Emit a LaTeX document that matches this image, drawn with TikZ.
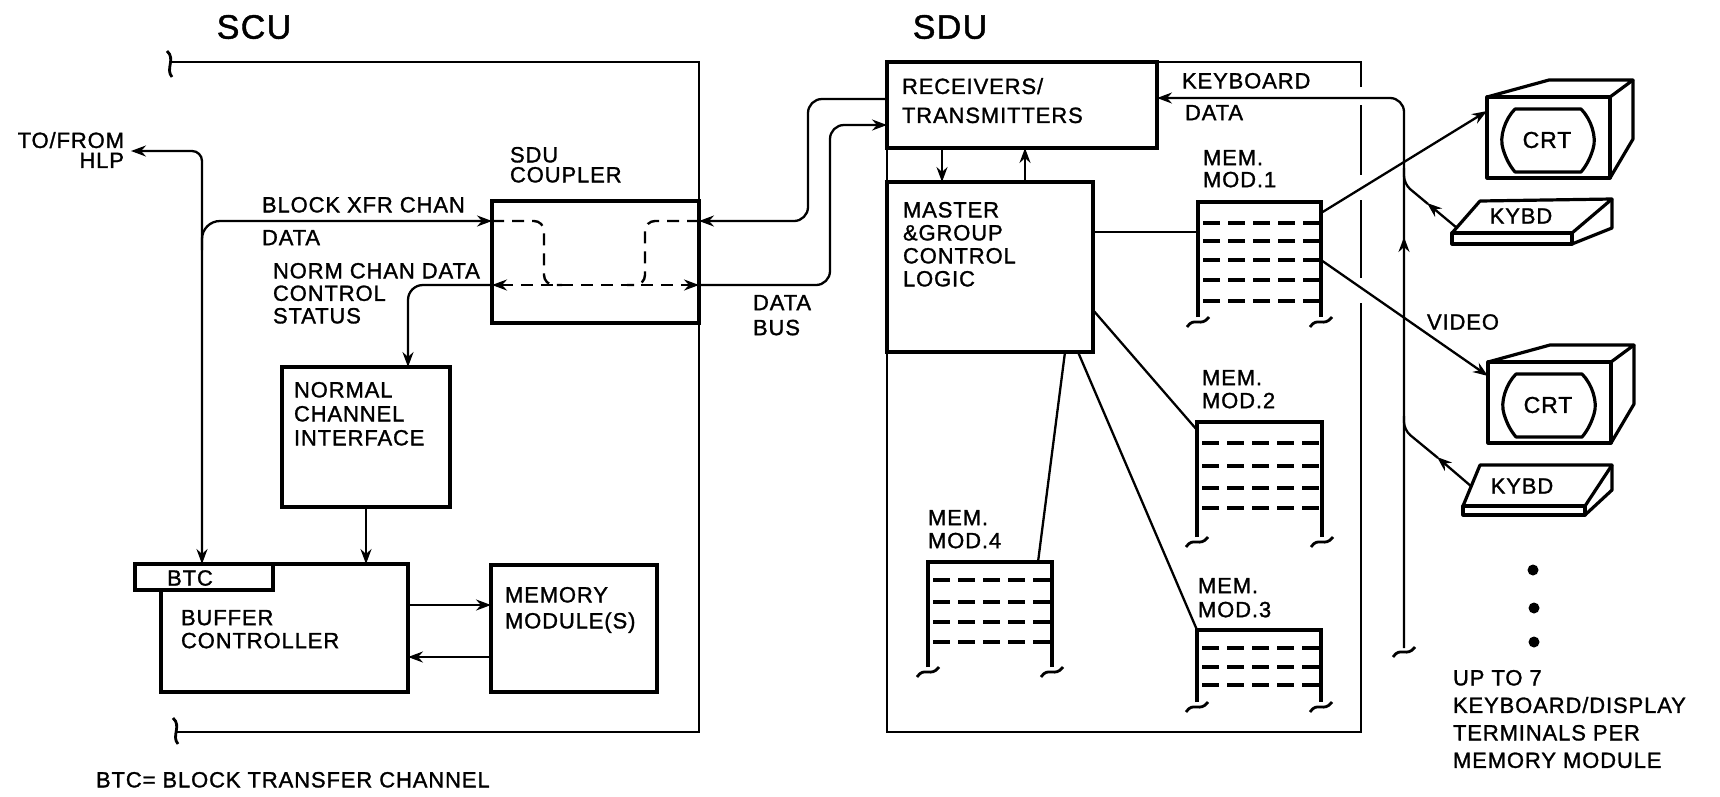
\documentclass[tikz,border=0pt]{standalone}
\usepackage{fontspec}
\setmainfont{Liberation Sans}[FakeBold=1.3, LetterSpace=4]
\usetikzlibrary{arrows.meta,fit}

% memory module: name, left, right, top, leg bottom, row list
\newcommand\memmodule[6]{%
  \draw[modwall] (#2,#5) -- (#2,#4) -- (#3,#4) -- (#3,#5);
  \foreach \yy in {#6} {\draw[modrow] (#2+5,\yy) -- (#3,\yy);}
  \pic at (#2,#5+4) {brk};
  \pic at (#3,#5+4) {brk};
  \node[fit={(#2,#4) (#3,#5)}] (#1) {};
}

\begin{document}
\begin{tikzpicture}[x=1pt,y=-1pt,
  every node/.style={inner sep=0pt, outer sep=0pt},
  >={Stealth[length=15pt,width=11pt,inset=5pt]},
  lbl/.style={font=\fontsize{22}{#1}\selectfont, align=left, anchor=north west},
  lbl/.default=24,
  title/.style={font=\fontsize{34}{40}\selectfont, anchor=center},
  box/.style={draw, line width=3.2pt},
  frame/.style={line width=2.8pt},
  conn/.style={line width=2.3pt},
  dashline/.style={line width=2.4pt, dash pattern=on 12pt off 8pt},
  modwall/.style={line width=3.2pt},
  modrow/.style={line width=3.2pt, dash pattern=on 17pt off 8pt},
  solid3d/.style={line width=3.2pt, line join=round},
  brk/.pic={\draw[line width=2.8pt] (-11,6) .. controls (-4,-5) and (3,7) .. (11,-4);},
  vbrk/.pic={\draw[line width=2.8pt] (-3,-13) .. controls (6,-5) and (-5,5) .. (2,13);},
  crt/.pic={
    \draw[solid3d] (0,0) rectangle (123,81);
    \draw[solid3d] (0,0) -- (62,-17) -- (146,-17) -- (123,0);
    \draw[solid3d] (146,-17) -- (146,42) -- (123,81);
    \draw[solid3d] (28,12) -- (94,12) .. controls (104,22) and (110,40) .. (106,52)
       .. controls (103,62) and (99,69) .. (94,75)
       -- (28,75) .. controls (23,69) and (19,62) .. (16,52)
       .. controls (12,40) and (18,22) .. (28,12) -- cycle;
    \node[font=\fontsize{23}{26}\selectfont] (-lbl) at (60,43) {CRT};
    \coordinate (-in) at (0,14);
  }
]
\fill[white] (0,0) rectangle (1720,796);
\useasboundingbox (0,0) rectangle (1720,796);

% ---------------- titles ----------------
\node[title] (scutitle) at (254,27) {SCU};
\node[title] (sdutitle) at (950,27) {SDU};

% ---------------- SCU ----------------
\draw[frame] (172,62) -- (699,62) -- (699,732) -- (177,732);
\pic at (170,64) {vbrk};
\pic at (176,731) {vbrk};

\node[box, fit={(492,201) (699,323)}] (coupler) {};
\node[box, fit={(282,367) (450,507)}] (nci) {};
\node[box, fit={(161,564) (408,692)}] (buf) {};
\node[box, fill=white, fit={(135,564) (273,590)}] (btc) {};
\node[box, fit={(491,565) (657,692)}] (mem) {};

\node[lbl=20, align=right, anchor=north east] (tofrom) at (124,132) {TO/FROM\\HLP};
\node[lbl=20] (sduc) at (510,147) {SDU\\COUPLER};
\node[lbl] (bxfr) at (262,197) {BLOCK XFR CHAN};
\node[lbl] (bdata) at (262,230) {DATA};
\node[lbl=22.5] (ncd) at (273,263) {NORM CHAN DATA\\CONTROL\\STATUS};
\node[lbl=24] (ncit) at (294,382) {NORMAL\\CHANNEL\\INTERFACE};
\node[font=\fontsize{22}{24}\selectfont] (btct) at (190,578) {BTC};
\node[lbl=23] (buft) at (181,610) {BUFFER\\CONTROLLER};
\node[lbl=26] (memt) at (505,587) {MEMORY\\MODULE(S)};
\node[lbl] (foot) at (96,772) {BTC= BLOCK TRANSFER CHANNEL};

% coupler internal paths
\draw[dashline, rounded corners=10pt] (coupler.west |- 0,221) -- (544,221) -- (544,285) -- (562,285);
\draw[dashline, rounded corners=10pt] (coupler.east |- 0,221) -- (645,221) -- (645,285) -- (627,285);
\draw[dashline, <->] (coupler.west |- 0,285) -- (coupler.east |- 0,285);

% SCU connectors
\coordinate (hlp) at (131,151);
\coordinate (hlpx) at (202,151);
\draw[conn, <->, rounded corners=10pt] (hlp) -- (hlpx) -- (hlpx |- btc.north);
\draw[conn, ->, rounded corners=18pt] (202,250) -- (202,221) -- (coupler.west |- 0,221);
\draw[conn, ->, rounded corners=15pt] (coupler.west |- 0,285) -- (408,285) -- (408,0 |- nci.north);
\draw[conn, ->] (nci.south -| 366,0) -- (buf.north -| 366,0);
\draw[conn, ->] (buf.east |- 0,605) -- (mem.west |- 0,605);
\draw[conn, ->] (mem.west |- 0,657) -- (buf.east |- 0,657);

% ---------------- SDU ----------------
\draw[frame] (1361,87) -- (1361,62) -- (887,62) -- (887,732) -- (1361,732) -- (1361,303);
\draw[frame] (1361,105) -- (1361,175);
\draw[frame] (1361,200) -- (1361,278);

\node[box, fit={(887,62) (1157,148)}] (rt) {};
\node[box, fit={(887,182) (1093,352)}] (master) {};

\node[lbl=29] (rtt) at (902,78) {RECEIVERS/\\TRANSMITTERS};
\node[lbl=23] (mst) at (903,202) {MASTER\\\&GROUP\\CONTROL\\LOGIC};
\node[lbl=25] (dbus) at (753,295) {DATA\\BUS};
\node[lbl] (kbdt) at (1182,73) {KEYBOARD};
\node[lbl] (kdata) at (1185,105) {DATA};

\memmodule{mm1}{1198}{1321}{202}{317}{223,241,260,280,301}
\memmodule{mm2}{1197}{1322}{422}{537}{443,466,488,508}
\memmodule{mm3}{1197}{1321}{630}{702}{648,667,685}
\memmodule{mm4}{928}{1052}{562}{667}{580,602,622,642}

\node[lbl=22] (m1t) at (1203,150) {MEM.\\MOD.1};
\node[lbl=23] (m2t) at (1202,370) {MEM.\\MOD.2};
\node[lbl=24] (m3t) at (1198,578) {MEM.\\MOD.3};
\node[lbl=23] (m4t) at (928,510) {MEM.\\MOD.4};

% data bus between coupler and receivers
\draw[conn, ->, rounded corners=14pt] (rt.west |- 0,99) -- (808,99) -- (808,221) -- (coupler.east |- 0,221);
\draw[conn, ->, rounded corners=14pt] (coupler.east |- 0,285) -- (830,285) -- (830,125) -- (rt.west |- 0,125);

% receivers <-> master
\draw[conn, ->] (rt.south -| 942,0) -- (master.north -| 942,0);
\draw[conn, ->] (master.north -| 1025,0) -- (rt.south -| 1025,0);

% master to memory modules
\draw[conn] (master.east |- 0,232) -- (mm1.west |- 0,232);
\draw[conn] (master.east |- 0,310) -- (mm2.west |- 0,430);
\draw[conn] (master.south -| 1078,0) -- (mm3.north west);
\draw[conn] (master.south -| 1065,0) -- (mm4.north -| 1038,0);

% ---------------- terminals ----------------
\pic (crtA) at (1487,97) {crt};
\pic (crtB) at (1488,362) {crt};

\draw[solid3d] (1452,233) -- (1480,201) -- (1612,199) -- (1572,233) -- cycle;
\draw[solid3d] (1452,233) rectangle (1572,244);
\draw[solid3d] (1572,244) -- (1612,228) -- (1612,199);
\node[font=\fontsize{22}{24}\selectfont] (kb1) at (1521,216) {KYBD};

\draw[solid3d] (1463,506) -- (1480,465) -- (1612,465) -- (1585,506) -- cycle;
\draw[solid3d] (1463,506) rectangle (1585,515);
\draw[solid3d] (1585,515) -- (1612,490) -- (1612,465);
\node[font=\fontsize{22}{24}\selectfont] (kb2) at (1522,486) {KYBD};

\draw[conn, ->] (mm1.east |- 0,213) -- (crtA-in);
\draw[conn, ->] (mm1.east |- 0,260) -- (crtB-in);
\node[font=\fontsize{22}{24}\selectfont] (video) at (1463,322) {VIDEO};

% keyboard data return line
\draw[conn, ->, rounded corners=14pt] (1404,648) -- (1404,98) -- (rt.east |- 0,98);
\draw[conn, ->] (1404,265) -- (1404,237);
\pic at (1404,651) {brk};
\coordinate (k1s) at (1457,228);
\coordinate (k2s) at (1472,487);
\draw[conn, ->] (k1s) -- (1427,203);
\draw[conn, rounded corners=8pt] (1428,204) -- (1404,184) -- (1404,168);
\draw[conn, ->] (k2s) -- (1437,457);
\draw[conn, rounded corners=8pt] (1438,458) -- (1404,430) -- (1404,416);

\fill (1533,570) circle[radius=5.5pt];
\fill (1534,608) circle[radius=5.5pt];
\fill (1534,642) circle[radius=5.5pt];
\node[lbl=27.5] (upto) at (1453,670) {UP TO 7\\KEYBOARD/DISPLAY\\TERMINALS PER\\MEMORY MODULE};
\end{tikzpicture}
\end{document}
